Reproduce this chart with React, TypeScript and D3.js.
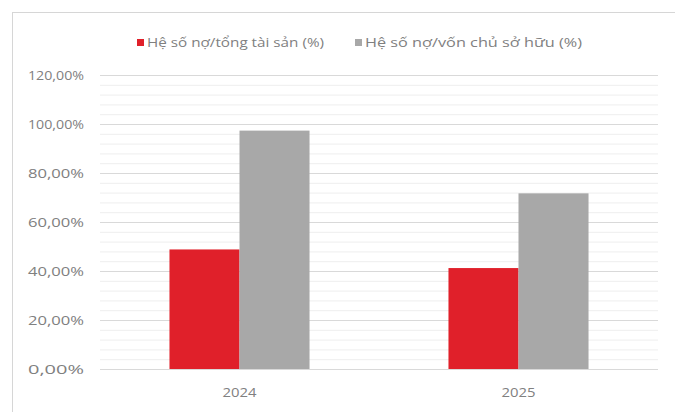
import React, { useEffect, useRef } from "react";
import * as d3 from "d3";

const years = ["2024", "2025"];
const seriesNames = ["Hệ số nợ/tổng tài sản (%)", "Hệ số nợ/vốn chủ sở hữu (%)"];
const debtToAssets = [48.8, 41.2];
const debtToEquity = [97.3, 71.7];
const yTicks = [0, 20, 40, 60, 80, 100, 120];
const colors = ["#e0202a", "#a8a8a8"];

const App: React.FC = () => {
  const svgRef = useRef<SVGSVGElement>(null);

  useEffect(() => {
    if (!svgRef.current) return;
    const width = 675;
    const height = 412;
    const svg = d3.select(svgRef.current);
    svg.selectAll("*").remove();

    const font = "'Open Sans', 'Liberation Sans', sans-serif";
    const textColor = "#808080";

    // chart frame
    svg.append("rect")
      .attr("x", 12.5).attr("y", 12.5)
      .attr("width", width).attr("height", height)
      .attr("fill", "#fff")
      .attr("stroke", "#d6d6d6");

    const margin = { top: 75, right: 17, bottom: 43, left: 100 };
    const x0 = d3.scaleBand().domain(years)
      .range([margin.left, width - margin.right]);
    const x1 = d3.scaleBand().domain(["a", "b"])
      .range([0, x0.bandwidth() * 0.502])
      .paddingInner(0);
    const y = d3.scaleLinear().domain([0, 120])
      .range([height - margin.bottom, margin.top]);

    // minor gridlines
    const minor = d3.range(0, 121, 4).filter(v => v % 20 !== 0);
    svg.append("g").selectAll("line").data(minor).enter().append("line")
      .attr("x1", margin.left).attr("x2", width - margin.right)
      .attr("y1", d => y(d) + 0.5).attr("y2", d => y(d) + 0.5)
      .attr("stroke", "#eeeeee").attr("stroke-width", 1);

    // major gridlines
    svg.append("g").selectAll("line").data(yTicks).enter().append("line")
      .attr("x1", margin.left).attr("x2", width - margin.right)
      .attr("y1", d => Math.round(y(d)) + 0.5).attr("y2", d => Math.round(y(d)) + 0.5)
      .attr("stroke", "#d9d9d9").attr("stroke-width", 1.2);

    // y tick labels
    svg.append("g").selectAll("text").data(yTicks).enter().append("text")
      .attr("x", 84).attr("y", d => y(d) + 4.5)
      .attr("text-anchor", "end")
      .attr("font-family", font).attr("font-size", 12.5)
      .attr("fill", textColor)
      .attr("textLength", 56).attr("lengthAdjust", "spacingAndGlyphs")
      .text(d => d3.format(".2f")(d).replace(".", ",") + "%");

    // bars
    const rows = years.map((yr, i) => ({ yr, vals: [debtToAssets[i], debtToEquity[i]] }));
    const groupW = x1.range()[1];
    const groups = svg.append("g").selectAll("g").data(rows).enter().append("g")
      .attr("transform", d => `translate(${x0(d.yr)! + (x0.bandwidth() - groupW) / 2},0)`);
    groups.selectAll("rect")
      .data(d => d.vals.map((v, j) => ({ key: j === 0 ? "a" : "b", v, j })))
      .enter().append("rect")
      .attr("x", d => x1(d.key)!)
      .attr("width", x1.bandwidth())
      .attr("y", d => y(d.v))
      .attr("height", d => y(0) - y(d.v))
      .attr("fill", d => colors[d.j]);

    // x labels
    svg.append("g").selectAll("text").data(years).enter().append("text")
      .attr("x", d => x0(d)! + x0.bandwidth() / 2)
      .attr("y", y(0) + 28)
      .attr("text-anchor", "middle")
      .attr("font-family", font).attr("font-size", 13)
      .attr("fill", textColor)
      .attr("textLength", 34).attr("lengthAdjust", "spacingAndGlyphs")
      .text(d => d);

    // legend
    const legendX = [137, 355];
    const legendW = [177, 217];
    seriesNames.forEach((name, i) => {
      svg.append("rect")
        .attr("x", legendX[i]).attr("y", 39)
        .attr("width", 7).attr("height", 7)
        .attr("fill", colors[i]);
      svg.append("text")
        .attr("x", legendX[i] + 10).attr("y", 47)
        .attr("font-family", font).attr("font-size", 13)
        .attr("fill", textColor)
        .attr("textLength", legendW[i]).attr("lengthAdjust", "spacingAndGlyphs")
        .text(name);
    });
  }, []);

  return (
    <div style={{ position: "fixed", left: 0, top: 0 }}>
      <svg ref={svgRef} width={675} height={412} style={{ display: "block", background: "#fff" }} />
    </div>
  );
};

export default App;
